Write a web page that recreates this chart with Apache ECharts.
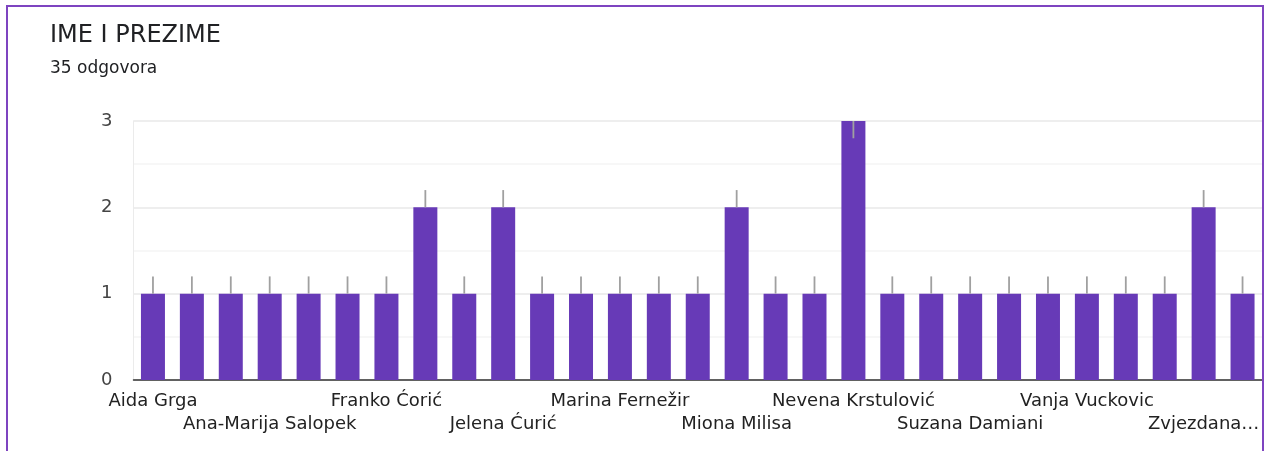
<!DOCTYPE html>
<html>
<head>
<meta charset="utf-8">
<script src="https://cdn.jsdelivr.net/npm/echarts@6/dist/echarts.min.js"></script>
<style>
html,body{margin:0;padding:0;background:#fff;}
#chart{width:1266px;height:451px;}
#frame{position:absolute;left:6px;top:5px;width:1258px;height:460px;border:2px solid #7e44c0;box-sizing:border-box;pointer-events:none;}
</style>
</head>
<body>
<div id="chart"></div>
<div id="frame"></div>
<script>
// Categories (only every third name is legible in the reference; others are placeholders)
const categories = [
  'Aida Grga', 'Ispitanik 2', 'Ispitanik 3',
  'Ana-Marija Salopek', 'Ispitanik 5', 'Ispitanik 6',
  'Franko Ćorić', 'Ispitanik 8', 'Ispitanik 9',
  'Jelena Ćurić', 'Ispitanik 11', 'Ispitanik 12',
  'Marina Fernežir', 'Ispitanik 14', 'Ispitanik 15',
  'Miona Milisa', 'Ispitanik 17', 'Ispitanik 18',
  'Nevena Krstulović', 'Ispitanik 20', 'Ispitanik 21',
  'Suzana Damiani', 'Ispitanik 23', 'Ispitanik 24',
  'Vanja Vuckovic', 'Ispitanik 26', 'Ispitanik 27',
  'Zvjezdana…', 'Ispitanik 29'
];
const counts = [1,1,1,1,1,1,1,2,1,2,1,1,1,1,1,2,1,1,3,1,1,1,1,1,1,1,1,2,1];
const yTicks = [0, 1, 2, 3];
const titleText = 'IME I PREZIME';
const subtitleText = '35 odgovora';

const Y_MAX = 3;
const labelStyle = {
  fontFamily: 'DejaVu Sans',
  fontSize: 18,
  color: '#222'
};
const chart = echarts.init(document.getElementById('chart'), null, {renderer: 'canvas'});
chart.setOption({
  animation: false,
  title: {
    text: titleText,
    subtext: subtitleText,
    left: 45, top: 19,
    itemGap: 12,
    textStyle: {fontFamily: 'DejaVu Sans', fontSize: 24, fontWeight: 'normal', color: '#202124'},
    subtextStyle: {fontFamily: 'DejaVu Sans', fontSize: 17, color: '#202124'}
  },
  grid: {left: 133.5, right: 4, top: 121, bottom: 71, containLabel: false},
  xAxis: [
    {
      type: 'category',
      position: 'bottom',
      data: categories,
      axisTick: {show: false},
      axisLine: {lineStyle: {color: '#333', width: 1.5}},
      axisLabel: Object.assign({
        interval: function (i) { return i % 6 === 0; },
        margin: 12
      }, labelStyle)
    },
    {
      type: 'category',
      position: 'bottom',
      data: categories,
      axisTick: {show: false},
      axisLine: {show: false},
      splitLine: {show: false},
      axisLabel: Object.assign({
        interval: function (i) { return i % 6 === 3; },
        margin: 35
      }, labelStyle)
    }
  ],
  yAxis: {
    type: 'value',
    min: 0, max: Y_MAX, interval: 0.5,
    axisLine: {show: true, lineStyle: {color: '#ebebeb'}},
    axisTick: {show: false},
    axisLabel: {
      margin: 21,
      fontFamily: 'DejaVu Sans',
      fontSize: 18,
      color: '#444',
      formatter: function (v) { return yTicks.indexOf(v) >= 0 ? String(v) : ''; }
    },
    splitLine: {lineStyle: {color: ['#e8e8e8', '#f5f5f5'], width: 1.5}}
  },
  series: [
    {
      type: 'bar',
      data: counts,
      barWidth: 24,
      itemStyle: {color: '#673ab7'}
    },
    {
      type: 'custom',
      data: counts.map((v, i) => [i, v]),
      z: 5,
      renderItem: function (params, api) {
        const i = api.value(0), v = api.value(1);
        const end = v + 0.2 > Y_MAX ? v - 0.2 : v + 0.2;
        const p1 = api.coord([i, v]);
        const p2 = api.coord([i, end]);
        return {
          type: 'line',
          shape: {x1: p1[0], y1: p1[1], x2: p2[0], y2: p2[1]},
          style: {stroke: '#a0a0a0', lineWidth: 1.8}
        };
      }
    }
  ]
});
</script>
</body>
</html>
